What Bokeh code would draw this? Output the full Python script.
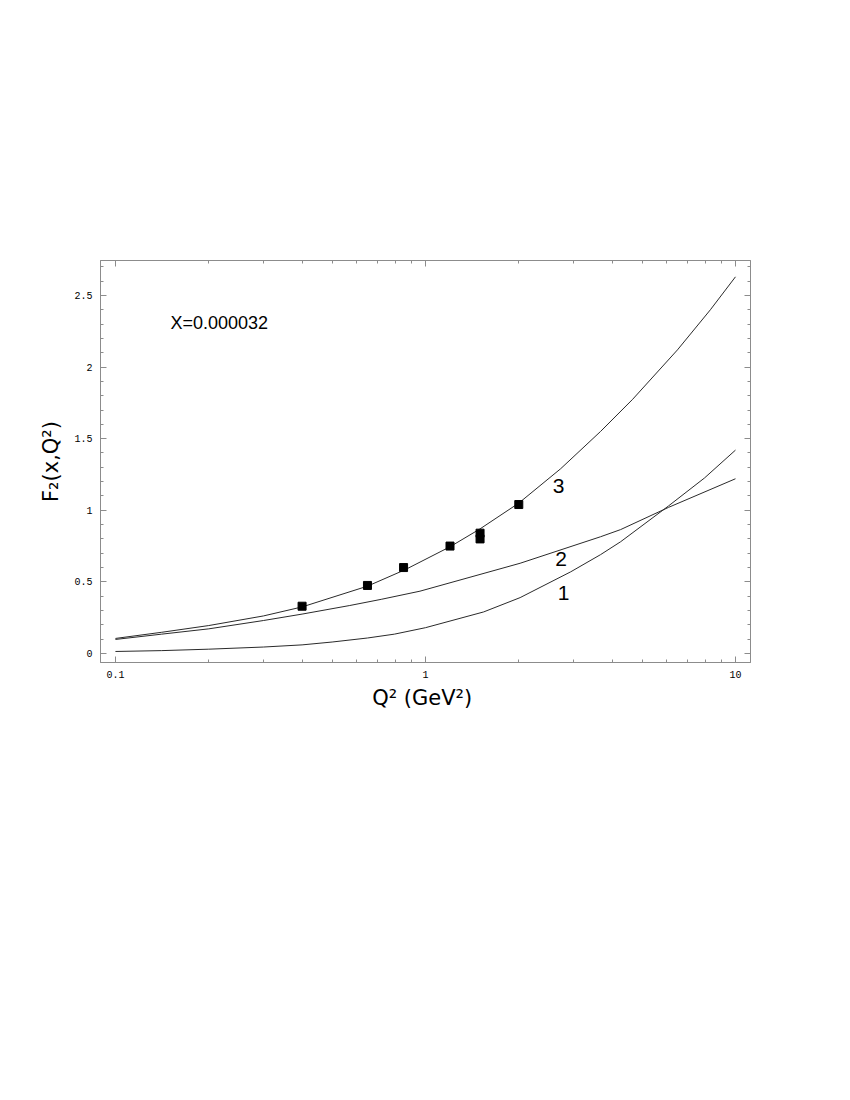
from bokeh.plotting import figure
from bokeh.models import (FixedTicker, LogAxis, LinearAxis, Range1d, Label,
                          CustomJSTickFormatter, ColumnDataSource)
from bokeh.embed import file_html
from bokeh.resources import INLINE

# ---------------- data ----------------
q2_curve1 = [0.1, 0.141, 0.2, 0.3, 0.4, 0.5, 0.65, 0.794, 1.0, 1.54, 2.02, 2.94, 3.67, 4.26, 6.08, 7.94, 10.0]
f2_curve1 = [0.014, 0.02, 0.03, 0.045, 0.06, 0.08, 0.108, 0.135, 0.18, 0.29, 0.39, 0.57, 0.69, 0.78, 1.03, 1.225, 1.42]

q2_curve2 = [0.1, 0.141, 0.2, 0.3, 0.4, 0.57, 0.72, 0.96, 2.02, 3.67, 4.26, 6.08, 10.0]
f2_curve2 = [0.098, 0.135, 0.172, 0.23, 0.275, 0.335, 0.378, 0.435, 0.63, 0.815, 0.865, 1.02, 1.22]

q2_curve3 = [0.1, 0.141, 0.2, 0.3, 0.4, 0.65, 0.86, 1.2, 1.5, 2.0, 2.73, 3.67, 4.66, 6.5, 8.3, 10.0]
f2_curve3 = [0.105, 0.148, 0.195, 0.262, 0.325, 0.47, 0.585, 0.745, 0.87, 1.05, 1.29, 1.55, 1.775, 2.12, 2.40, 2.63]

q2_data = [0.4, 0.65, 0.85, 1.2, 1.5, 1.5, 2.0]
f2_data = [0.33, 0.475, 0.60, 0.75, 0.84, 0.80, 1.04]

x_major_ticks = [0.1, 1, 10]
x_minor_ticks = [0.2, 0.3, 0.4, 0.5, 0.6, 0.7, 0.8, 0.9,
                 2, 3, 4, 5, 6, 7, 8, 9]
y_major_ticks = [0, 0.5, 1, 1.5, 2, 2.5]
y_minor_ticks = [i / 10 for i in range(0, 28)]

curve_labels = ["1", "2", "3"]
curve_label_q2 = [2.79, 2.74, 2.69]
curve_label_f2 = [0.419, 0.663, 1.166]

# ---------------- figure ----------------
AXC = "#8c8c8c"
p = figure(x_axis_type="log", frame_width=650, frame_height=402,
           x_range=Range1d(0.0895, 11.18), y_range=Range1d(-0.063, 2.744),
           min_border_left=100, min_border_top=260, min_border_right=76,
           min_border_bottom=120, toolbar_location=None, output_backend="svg",
           background_fill_color="white", border_fill_color="white")
p.grid.visible = False
p.outline_line_color = AXC

fmt = CustomJSTickFormatter(code="return String(tick)")

def style_axis(ax, labels=True):
    ax.axis_line_color = AXC
    ax.major_tick_line_color = AXC
    ax.minor_tick_line_color = AXC
    ax.major_tick_in = 6
    ax.major_tick_out = 0
    ax.minor_tick_in = 3
    ax.minor_tick_out = 0
    ax.major_label_text_font = "Liberation Mono"
    ax.major_label_text_font_size = "10px"
    ax.major_label_text_color = "black" if labels else None
    ax.formatter = fmt

xt = FixedTicker(ticks=x_major_ticks, minor_ticks=x_minor_ticks)
yt = FixedTicker(ticks=y_major_ticks, minor_ticks=y_minor_ticks)

xa = p.xaxis[0]
xa.ticker = xt
style_axis(xa)
xa.major_label_standoff = 8
xa.axis_label = "Q²  (GeV²)"
xa.axis_label_text_font = "DejaVu Sans"
xa.axis_label_text_font_style = "normal"
xa.axis_label_text_font_size = "21px"
xa.axis_label_text_color = "black"
xa.axis_label_standoff = 5

ya = p.yaxis[0]
ya.ticker = yt
style_axis(ya)
ya.major_label_standoff = 8
ya.axis_label = "F₂(x,Q²)"
ya.axis_label_text_font = "DejaVu Sans"
ya.axis_label_text_font_style = "normal"
ya.axis_label_text_font_size = "21px"
ya.axis_label_text_color = "black"
ya.axis_label_standoff = 8

top = LogAxis(ticker=FixedTicker(ticks=x_major_ticks, minor_ticks=x_minor_ticks))
style_axis(top, labels=False)
top.major_label_text_font_size = "1px"
top.major_label_standoff = 0
p.add_layout(top, "above")

right = LinearAxis(ticker=FixedTicker(ticks=y_major_ticks, minor_ticks=y_minor_ticks))
style_axis(right, labels=False)
right.major_label_text_font_size = "1px"
right.major_label_standoff = 0
p.add_layout(right, "right")

LC = "#2a2a2a"
p.line(q2_curve1, f2_curve1, line_color=LC, line_width=1)
p.line(q2_curve2, f2_curve2, line_color=LC, line_width=1)
p.line(q2_curve3, f2_curve3, line_color=LC, line_width=1)

p.scatter(q2_data, f2_data, marker="square", size=8, fill_color="black",
          line_color="black")

src = ColumnDataSource(dict(x=curve_label_q2, y=curve_label_f2, t=curve_labels))
p.text(x="x", y="y", text="t", source=src, text_align="center",
       text_baseline="middle", text_font_size="21px",
       text_font={"value": "Liberation Sans"}, text_color="black")

p.add_layout(Label(x=0.1504, y=2.31, text="X=0.000032",
                   text_font="Liberation Sans", text_font_size="18px",
                   text_baseline="alphabetic", text_color="black"))

open("out.html", "w").write(file_html(p, INLINE))
